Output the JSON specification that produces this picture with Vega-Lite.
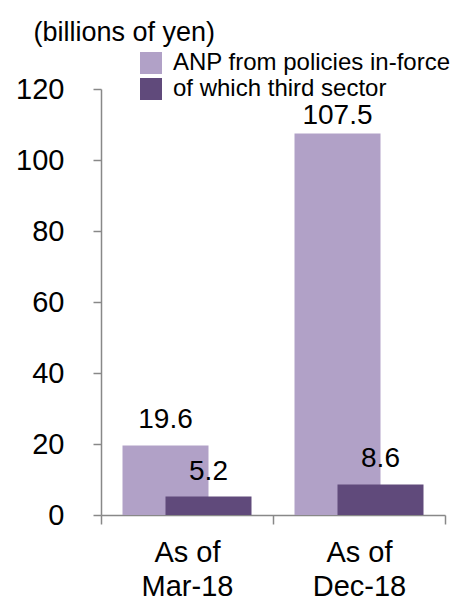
{
  "$schema": "https://vega.github.io/schema/vega-lite/v6.json",
  "width": 344,
  "height": 426,
  "autosize": {"type": "none"},
  "padding": {"left": 101, "top": 89, "right": 16, "bottom": 85},
  "background": "white",
  "config": {"view": {"stroke": null}, "font": "Liberation Sans"},
  "data": {
    "values": [
      {"date": "As of|Mar-18", "series": "ANP from policies in-force", "value": 19.6},
      {"date": "As of|Mar-18", "series": "of which third sector", "value": 5.2},
      {"date": "As of|Dec-18", "series": "ANP from policies in-force", "value": 107.5},
      {"date": "As of|Dec-18", "series": "of which third sector", "value": 8.6}
    ]
  },
  "encoding": {
    "x": {
      "field": "date",
      "type": "nominal",
      "sort": null,
      "scale": {"paddingInner": 0, "paddingOuter": 0},
      "axis": {
        "title": null,
        "labelExpr": "split(datum.label, '|')",
        "labelAngle": 0,
        "labelFontSize": 29,
        "labelColor": "black",
        "labelLineHeight": 34,
        "labelBaseline": "top",
        "tickBand": "extent",
        "tickSize": 9,
        "labelPadding": 14,
        "domainColor": "#888888",
        "tickColor": "#888888",
        "domainWidth": 1.5,
        "tickWidth": 1.5
      }
    },
    "y": {
      "field": "value",
      "type": "quantitative",
      "scale": {"domain": [0, 120], "nice": false},
      "axis": {
        "values": [0, 20, 40, 60, 80, 100, 120],
        "grid": false,
        "tickSize": 8,
        "labelPadding": 29,
        "labelFontSize": 29,
        "labelColor": "black",
        "domainColor": "#888888",
        "tickColor": "#888888",
        "domainWidth": 1.5,
        "tickWidth": 1.5,
        "title": "(billions of yen)",
        "titleAngle": 0,
        "titleX": -68,
        "titleY": -49,
        "titleAlign": "left",
        "titleBaseline": "alphabetic",
        "titleFontSize": 27,
        "titleFontWeight": "normal",
        "titleColor": "black"
      }
    }
  },
  "layer": [
    {
      "transform": [{"filter": "datum.series == 'ANP from policies in-force'"}],
      "mark": {"type": "bar", "width": {"band": 0.5}, "xOffset": -21.5},
      "encoding": {
        "color": {
          "field": "series",
          "type": "nominal",
          "scale": {
            "domain": ["ANP from policies in-force", "of which third sector"],
            "range": ["#B1A1C7", "#604A7B"]
          },
          "legend": {
            "orient": "none",
            "legendX": 38,
            "legendY": -38,
            "title": null,
            "symbolType": "square",
            "symbolSize": 484,
            "symbolStrokeWidth": 0,
            "symbolOpacity": 1,
            "labelFontSize": 24,
            "labelColor": "black",
            "labelOffset": 10,
            "labelLimit": 400,
            "rowPadding": 2
          }
        }
      }
    },
    {
      "transform": [{"filter": "datum.series == 'of which third sector'"}],
      "mark": {"type": "bar", "width": {"band": 0.5}, "xOffset": 21.5},
      "encoding": {
        "color": {"field": "series", "type": "nominal"}
      }
    },
    {
      "transform": [{"filter": "datum.series == 'ANP from policies in-force' && datum.value <= 100"}],
      "mark": {"type": "text", "xOffset": -21.5, "dy": -17, "baseline": "alphabetic", "align": "center", "fontSize": 28, "color": "black"},
      "encoding": {"text": {"field": "value", "type": "quantitative", "format": ".1f"}}
    },
    {
      "transform": [{"filter": "datum.series == 'ANP from policies in-force' && datum.value > 100"}],
      "mark": {"type": "text", "xOffset": -21.5, "dy": -9, "baseline": "alphabetic", "align": "center", "fontSize": 28, "color": "black"},
      "encoding": {"text": {"field": "value", "type": "quantitative", "format": ".1f"}}
    },
    {
      "transform": [{"filter": "datum.series == 'of which third sector'"}],
      "mark": {"type": "text", "xOffset": 21.5, "dy": -17, "baseline": "alphabetic", "align": "center", "fontSize": 28, "color": "black"},
      "encoding": {"text": {"field": "value", "type": "quantitative", "format": ".1f"}}
    }
  ]
}
